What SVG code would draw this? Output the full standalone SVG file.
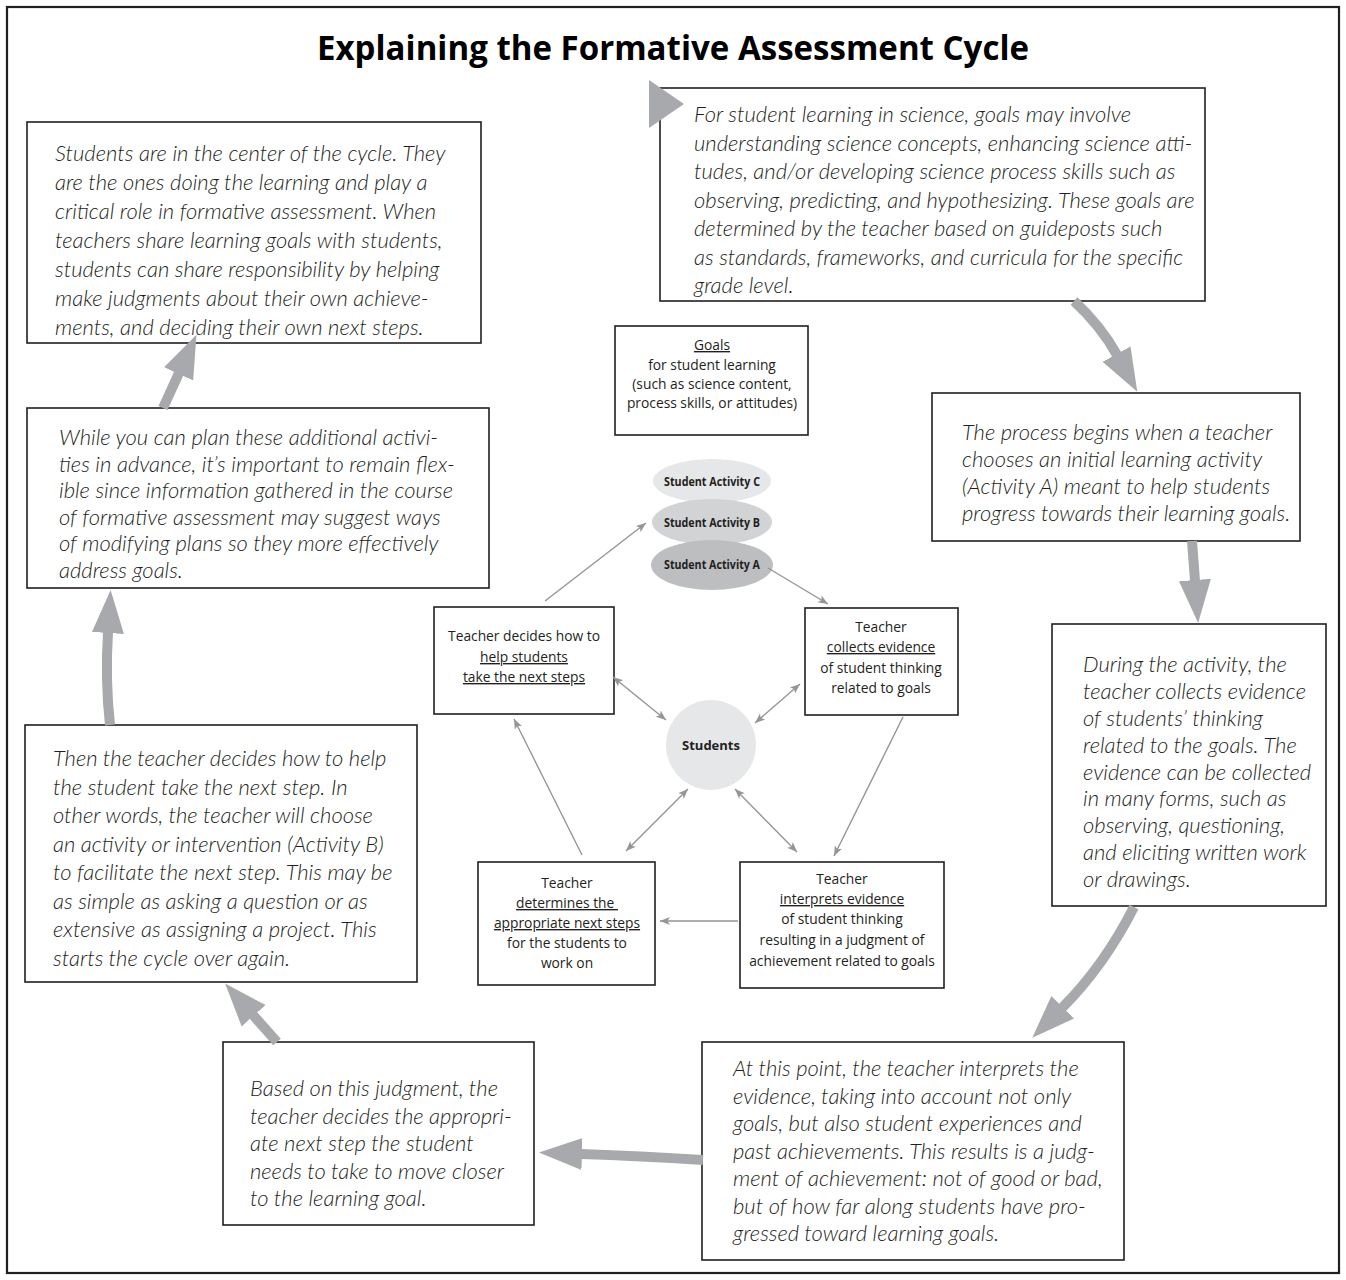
<svg xmlns="http://www.w3.org/2000/svg" width="1346" height="1280" viewBox="0 0 1346 1280">
  <style>
    .frame { fill: #ffffff; stroke: #231f20; stroke-width: 2.2; }
    .box { fill: #ffffff; stroke: #231f20; stroke-width: 1.6; }
    .title { font-family: "Open Sans", "Noto Sans", sans-serif; font-weight: 700; font-size: 34px; fill: #000000; }
    .it { font-family: Lato, "Open Sans", sans-serif; font-style: italic; font-weight: 300; font-size: 22px; fill: #231f20; }
    .sm { font-family: "Open Sans", "Noto Sans", sans-serif; font-size: 13.8px; fill: #231f20; text-anchor: middle; }
    .bd { font-family: "Open Sans", "Noto Sans", sans-serif; font-weight: 700; font-size: 12.5px; fill: #231f20; text-anchor: middle; }
    .u { text-decoration: underline; }
    .big { fill: none; stroke: #a7a9ac; stroke-width: 10; marker-end: url(#bigHead); }
    .thin { fill: none; stroke: #939598; stroke-width: 1.4; marker-end: url(#smallHead); }
    .both { fill: none; stroke: #939598; stroke-width: 1.4; marker-start: url(#smallHead); marker-end: url(#smallHead); }
  </style>
  <defs>
    <marker id="bigHead" markerUnits="userSpaceOnUse" viewBox="0 -17 44 34" refX="1" refY="0" markerWidth="44" markerHeight="34" orient="auto">
      <path d="M0,-16 L43,0 L0,16 z" fill="#a7a9ac"/>
    </marker>
    <marker id="smallHead" markerUnits="userSpaceOnUse" viewBox="0 -5 11 10" refX="10" refY="0" markerWidth="11" markerHeight="10" orient="auto-start-reverse">
      <path d="M0,-4 L10,0 L0,4 L2.5,0 z" fill="#939598"/>
    </marker>
  </defs>

  <rect class="frame" x="7" y="7" width="1332" height="1266"/>
  <text class="title" x="673" y="60" text-anchor="middle" textLength="712" lengthAdjust="spacingAndGlyphs">Explaining the Formative Assessment Cycle</text>

  <!-- explanatory text boxes -->
  <g id="note-students">
    <rect class="box" x="27" y="122" width="454" height="221"/>
    <text class="it" x="55" y="161">Students are in the center of the cycle. They</text>
    <text class="it" x="55" y="190">are the ones doing the learning and play a</text>
    <text class="it" x="55" y="219">critical role in formative assessment. When</text>
    <text class="it" x="55" y="248">teachers share learning goals with students,</text>
    <text class="it" x="55" y="277">students can share responsibility by helping</text>
    <text class="it" x="55" y="306">make judgments about their own achieve-</text>
    <text class="it" x="55" y="335">ments, and deciding their own next steps.</text>
  </g>

  <g id="note-goals">
    <rect class="box" x="660" y="88" width="545" height="213"/>
    <text class="it" x="694" y="122">For student learning in science, goals may involve</text>
    <text class="it" x="694" y="150.5">understanding science concepts, enhancing science atti-</text>
    <text class="it" x="694" y="179">tudes, and/or developing science process skills such as</text>
    <text class="it" x="694" y="207.5">observing, predicting, and hypothesizing. These goals are</text>
    <text class="it" x="694" y="236">determined by the teacher based on guideposts such</text>
    <text class="it" x="694" y="264.5">as standards, frameworks, and curricula for the specific</text>
    <text class="it" x="694" y="293">grade level.</text>
  </g>
  <polygon id="start-marker" points="649,80 649,128 684,104" fill="#a7a9ac"/>

  <g id="note-begin">
    <rect class="box" x="932" y="393" width="368" height="148"/>
    <text class="it" x="962" y="440">The process begins when a teacher</text>
    <text class="it" x="962" y="467">chooses an initial learning activity</text>
    <text class="it" x="962" y="494">(Activity A) meant to help students</text>
    <text class="it" x="962" y="521">progress towards their learning goals.</text>
  </g>

  <g id="note-collect">
    <rect class="box" x="1052" y="624" width="274" height="282"/>
    <text class="it" x="1083" y="672">During the activity, the</text>
    <text class="it" x="1083" y="699">teacher collects evidence</text>
    <text class="it" x="1083" y="726">of students’ thinking</text>
    <text class="it" x="1083" y="753">related to the goals. The</text>
    <text class="it" x="1083" y="780">evidence can be collected</text>
    <text class="it" x="1083" y="806">in many forms, such as</text>
    <text class="it" x="1083" y="833">observing, questioning,</text>
    <text class="it" x="1083" y="860">and eliciting written work</text>
    <text class="it" x="1083" y="887">or drawings.</text>
  </g>

  <g id="note-interpret">
    <rect class="box" x="702" y="1042" width="422" height="218"/>
    <text class="it" x="733" y="1076">At this point, the teacher interprets the</text>
    <text class="it" x="733" y="1103.5">evidence, taking into account not only</text>
    <text class="it" x="733" y="1131">goals, but also student experiences and</text>
    <text class="it" x="733" y="1158.5">past achievements. This results is a judg-</text>
    <text class="it" x="733" y="1186">ment of achievement: not of good or bad,</text>
    <text class="it" x="733" y="1213.5">but of how far along students have pro-</text>
    <text class="it" x="733" y="1241">gressed toward learning goals.</text>
  </g>

  <g id="note-judgment">
    <rect class="box" x="223" y="1042" width="311" height="183"/>
    <text class="it" x="250" y="1096">Based on this judgment, the</text>
    <text class="it" x="250" y="1123.5">teacher decides the appropri-</text>
    <text class="it" x="250" y="1151">ate next step the student</text>
    <text class="it" x="250" y="1178.5">needs to take to move closer</text>
    <text class="it" x="250" y="1206">to the learning goal.</text>
  </g>

  <g id="note-next-step">
    <rect class="box" x="25" y="725" width="392" height="257"/>
    <text class="it" x="53" y="766">Then the teacher decides how to help</text>
    <text class="it" x="53" y="794.5">the student take the next step. In</text>
    <text class="it" x="53" y="823">other words, the teacher will choose</text>
    <text class="it" x="53" y="851.5">an activity or intervention (Activity B)</text>
    <text class="it" x="53" y="880">to facilitate the next step. This may be</text>
    <text class="it" x="53" y="908.5">as simple as asking a question or as</text>
    <text class="it" x="53" y="937">extensive as assigning a project. This</text>
    <text class="it" x="53" y="965.5">starts the cycle over again.</text>
  </g>

  <g id="note-flexible">
    <rect class="box" x="27" y="408" width="462" height="180"/>
    <text class="it" x="59" y="445">While you can plan these additional activi-</text>
    <text class="it" x="59" y="471.5">ties in advance, it’s important to remain flex-</text>
    <text class="it" x="59" y="498">ible since information gathered in the course</text>
    <text class="it" x="59" y="524.5">of formative assessment may suggest ways</text>
    <text class="it" x="59" y="551">of modifying plans so they more effectively</text>
    <text class="it" x="59" y="577.5">address goals.</text>
  </g>

  <!-- central cycle -->
  <g id="goals">
    <rect class="box" x="615" y="326" width="193" height="109"/>
    <text class="sm" x="712" y="350"><tspan class="u">Goals</tspan></text>
    <text class="sm" x="712" y="370">for student learning</text>
    <text class="sm" x="712" y="389">(such as science content,</text>
    <text class="sm" x="712" y="408">process skills, or attitudes)</text>
  </g>

  <g id="activities">
    <ellipse cx="712" cy="481" rx="59" ry="22" fill="#e6e7e8"/>
    <ellipse cx="712" cy="522" rx="60" ry="23" fill="#d1d3d4"/>
    <ellipse cx="712" cy="565" rx="61" ry="25" fill="#bcbec0"/>
    <text class="bd" x="712" y="486" textLength="96" lengthAdjust="spacingAndGlyphs">Student Activity C</text>
    <text class="bd" x="712" y="527" textLength="96" lengthAdjust="spacingAndGlyphs">Student Activity B</text>
    <text class="bd" x="712" y="569" textLength="96" lengthAdjust="spacingAndGlyphs">Student Activity A</text>
  </g>

  <g id="students">
    <circle cx="711" cy="745" r="45" fill="#e6e7e8"/>
    <text class="bd" x="711" y="750" font-size="13" textLength="58" lengthAdjust="spacingAndGlyphs">Students</text>
  </g>

  <g id="decide">
    <rect class="box" x="434" y="607" width="180" height="107"/>
    <text class="sm" x="524" y="641">Teacher decides how to</text>
    <text class="sm" x="524" y="662"><tspan class="u">help students</tspan></text>
    <text class="sm" x="524" y="682"><tspan class="u">take the next steps</tspan></text>
  </g>

  <g id="collect">
    <rect class="box" x="805" y="608" width="153" height="107"/>
    <text class="sm" x="881" y="632">Teacher</text>
    <text class="sm" x="881" y="652"><tspan class="u">collects evidence</tspan></text>
    <text class="sm" x="881" y="673">of student thinking</text>
    <text class="sm" x="881" y="693">related to goals</text>
  </g>

  <g id="determine">
    <rect class="box" x="478" y="862" width="177" height="123"/>
    <text class="sm" x="567" y="888">Teacher</text>
    <text class="sm" x="567" y="908"><tspan class="u">determines the&#160;</tspan></text>
    <text class="sm" x="567" y="928"><tspan class="u">appropriate next steps</tspan></text>
    <text class="sm" x="567" y="948">for the students to</text>
    <text class="sm" x="567" y="968">work on</text>
  </g>

  <g id="interpret">
    <rect class="box" x="740" y="862" width="204" height="126"/>
    <text class="sm" x="842" y="884">Teacher</text>
    <text class="sm" x="842" y="904"><tspan class="u">interprets evidence</tspan></text>
    <text class="sm" x="842" y="924">of student thinking</text>
    <text class="sm" x="842" y="945">resulting in a judgment of</text>
    <text class="sm" x="842" y="966">achievement related to goals</text>
  </g>

  <!-- connectors -->
  <g id="connectors">
    <path class="big" d="M1074,301 Q1101,326 1117,355"/>
    <path class="big" d="M1192,541 L1195,581"/>
    <path class="big" d="M1134,907 Q1104,966 1062,1008"/>
    <path class="big" d="M703,1160 Q640,1156 581,1154"/>
    <path class="big" d="M277,1042 L253,1015"/>
    <path class="big" d="M110,725 Q105,680 108,632"/>
    <path class="big" d="M163,408 L179,373"/>

    <path class="thin" d="M545,601 L646,523"/>
    <path class="thin" d="M768,568 L828,604"/>
    <path class="thin" d="M903,717 L834,856"/>
    <path class="thin" d="M738,921 L660,921"/>
    <path class="thin" d="M582,855 L514,719"/>
    <path class="both" d="M613,677 L666,720"/>
    <path class="both" d="M800,684 L755,723"/>
    <path class="both" d="M735,789 L797,852"/>
    <path class="both" d="M688,789 L626,851"/>
  </g>
</svg>
